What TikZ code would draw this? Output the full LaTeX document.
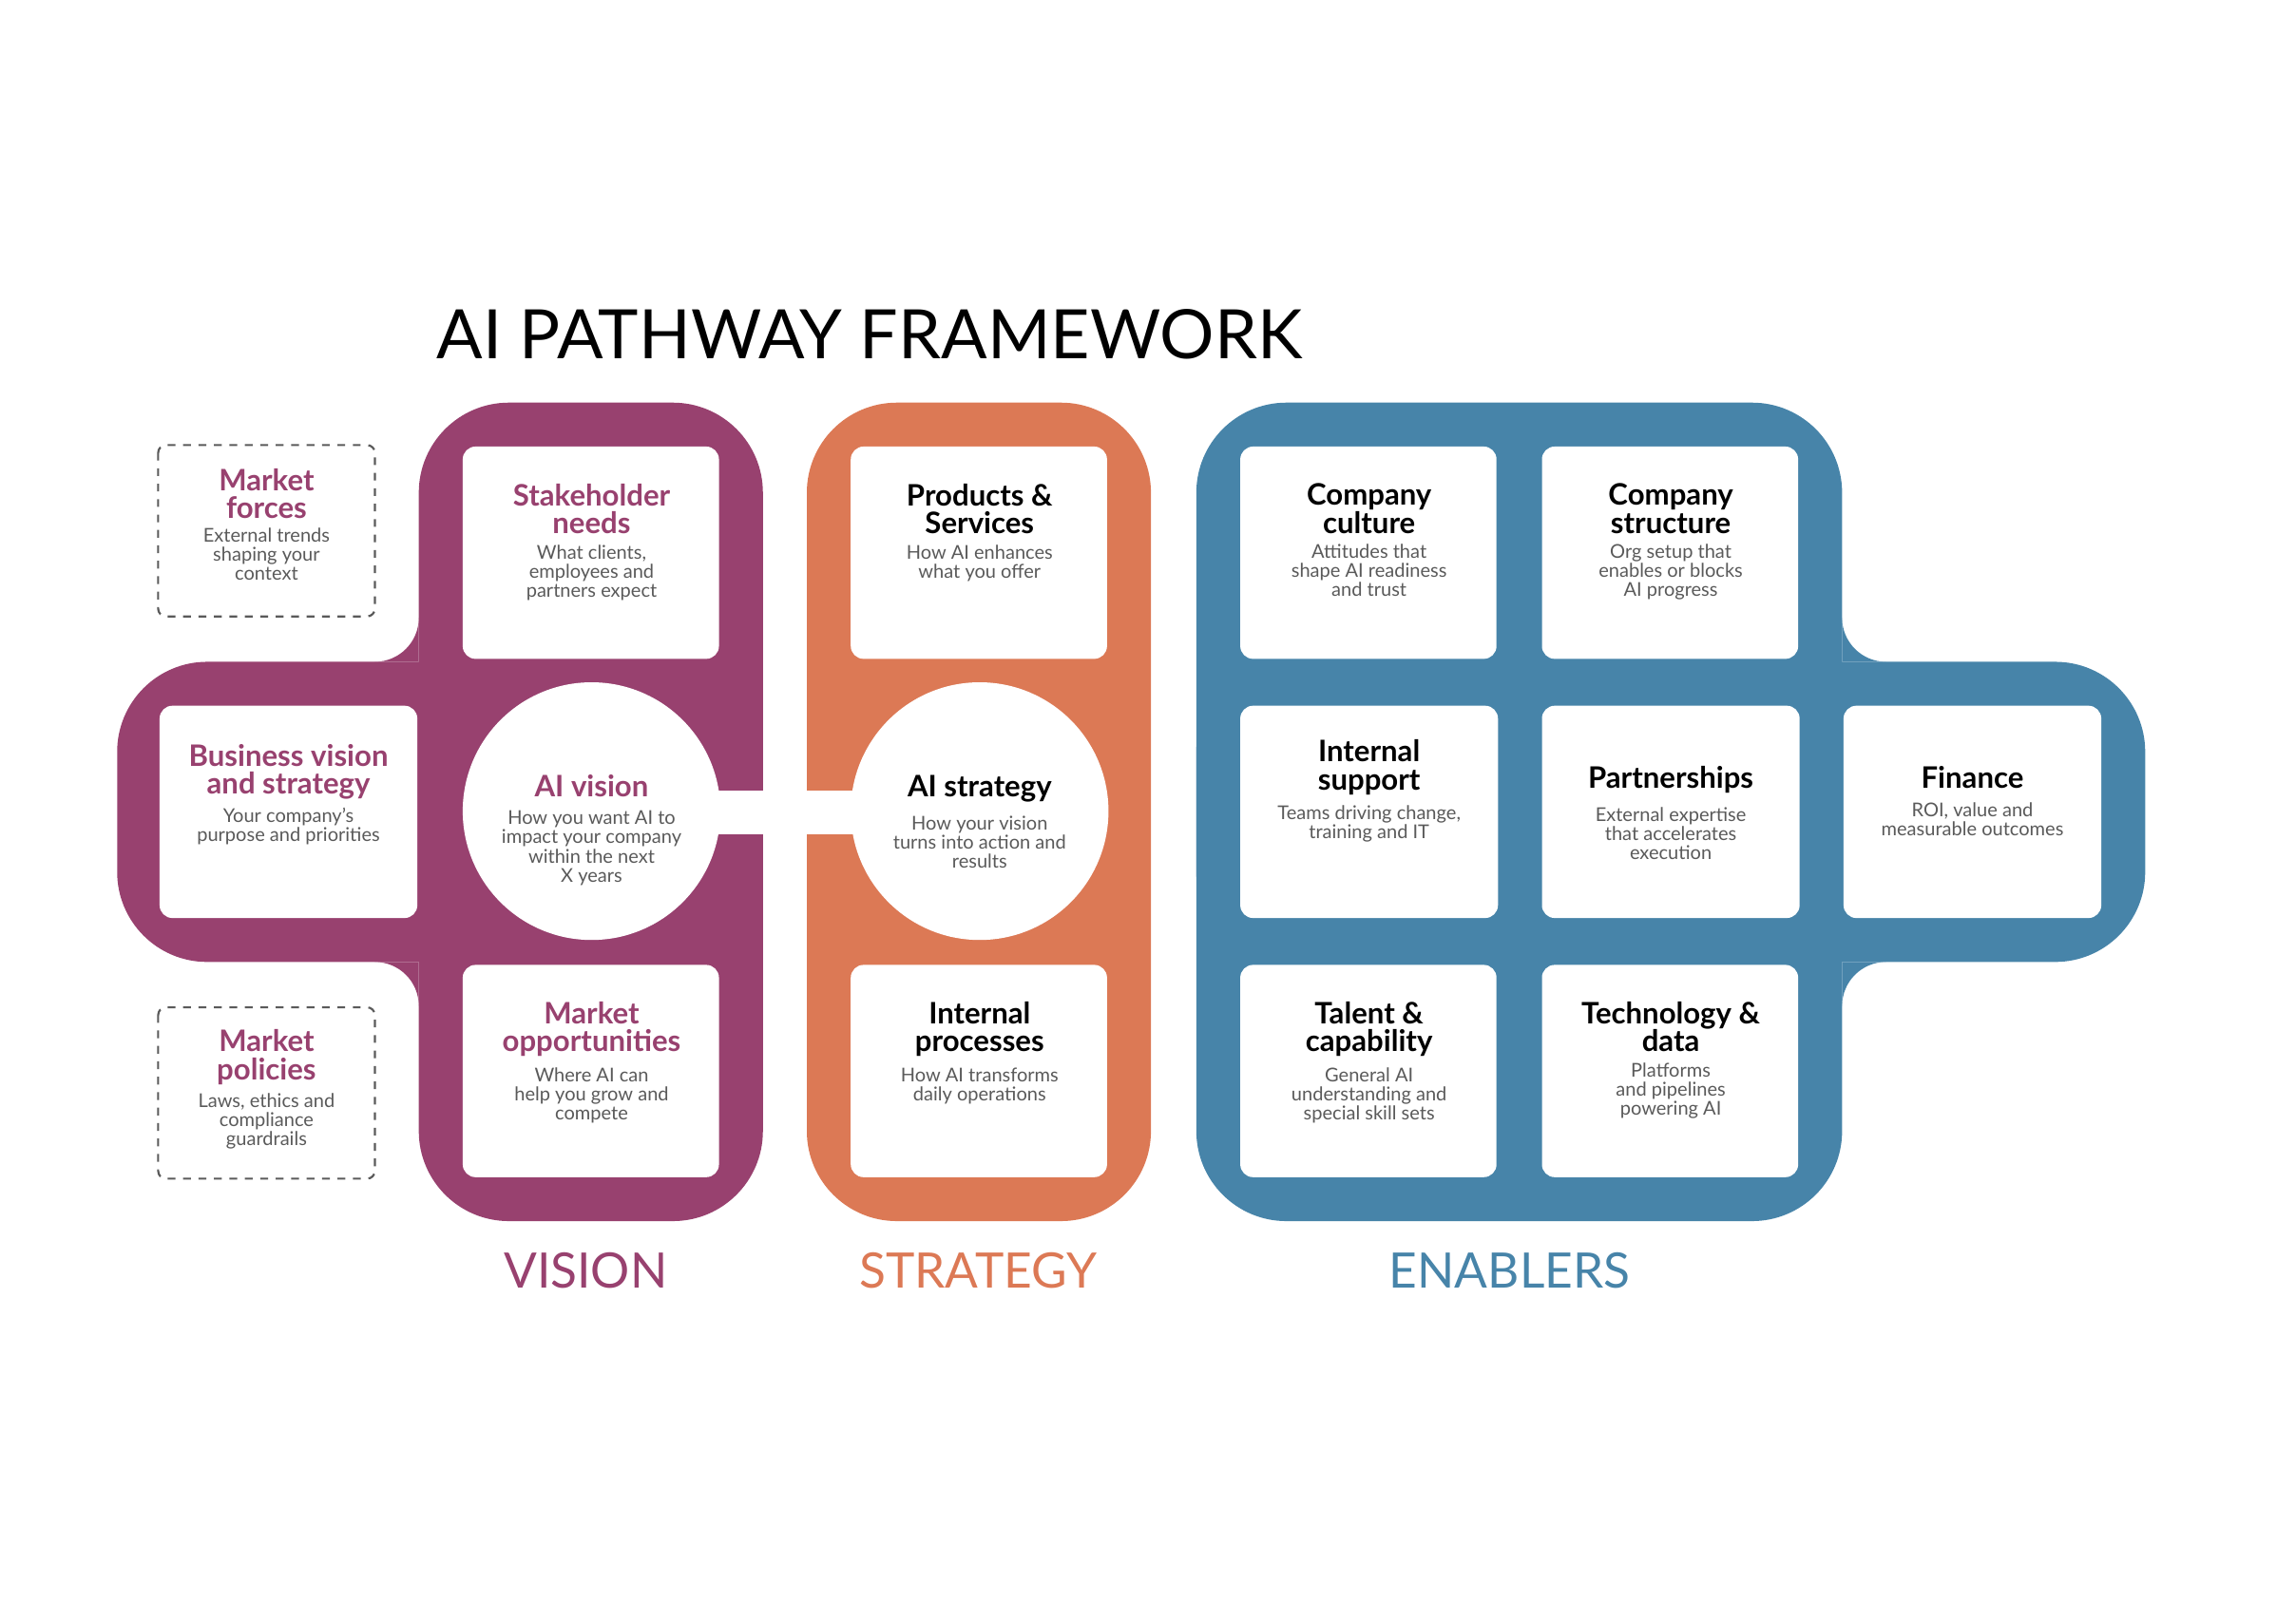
\documentclass[tikz,border=0pt]{standalone}
\usepackage{fontspec}
\setmainfont{Lato}
\definecolor{vis}{HTML}{98416F}
\definecolor{str}{HTML}{DC7955}
\definecolor{ena}{HTML}{4784A9}
\definecolor{dsc}{HTML}{5A5A5A}
\begin{document}
\begin{tikzpicture}[x=0.02cm,y=0.02cm,
  wbox/.style={fill=white,rounded corners=5},
  hd/.style={align=center,anchor=north,inner sep=0,font=\fontsize{11.5}{10.8}\selectfont\bfseries},
  ds/.style={align=center,anchor=north,inner sep=0,text=dsc,font=\fontsize{7.4}{7.4}\selectfont},
  lbl/.style={font=\fontsize{19}{19}\selectfont}]
\useasboundingbox (0,0) rectangle (1568,-1108);
% purple
\fill[vis,rounded corners=35] (286,-275) rectangle (521,-834);
\fill[vis,rounded corners=35] (80,-452) rectangle (521,-657);
\fill[vis] (286,-422) arc[start angle=0,end angle=-90,radius=30] -- (286,-452) -- cycle;
\fill[vis] (286,-687) arc[start angle=0,end angle=90,radius=30] -- (286,-657) -- cycle;
% orange
\fill[str,rounded corners=35] (551,-275) rectangle (786,-834);
% blue
\fill[ena,rounded corners=35] (817,-275) rectangle (1258,-834);
\fill[ena,rounded corners=35] (817,-452) rectangle (1465,-657);
\fill[ena] (1258,-422) arc[start angle=180,end angle=270,radius=30] -- (1258,-452) -- cycle;
\fill[ena] (1258,-687) arc[start angle=180,end angle=90,radius=30] -- (1258,-657) -- cycle;
% white link
\fill[white] (470,-540) rectangle (610,-570);
% dashed boxes
\draw[dsc,dashed,line width=0.8pt,rounded corners=3] (108,-304) rectangle (256,-421);
\draw[dsc,dashed,line width=0.8pt,rounded corners=3] (108,-688) rectangle (256,-805);
% white boxes
\foreach \x in {316,581,847,1053}{
  \fill[wbox] (\x,-305) rectangle ++(175,-145);
  \fill[wbox] (\x,-659) rectangle ++(175,-145);}
\foreach \x in {109,847,1053,1259}{\fill[wbox] (\x,-482) rectangle ++(176,-145);}
\fill[white] (404,-554) circle (88);
\fill[white] (669,-554) circle (88);
% title
\node[anchor=base west,inner sep=0,font=\fontsize{26.5}{26.5}\selectfont] (title) at (298,-245) {AI PATHWAY FRAMEWORK};
% texts
\node[hd,text=vis] (mf) at (182,-320) {Market\\forces};
\node[ds] (mfd) at ([yshift=-3pt]mf.south) {External trends\\shaping your\\context};
\node[hd,text=vis] (mp) at (182,-703) {Market\\policies};
\node[ds] (mpd) at ([yshift=-3pt]mp.south) {Laws, ethics and\\compliance\\guardrails};
\node[hd,text=vis] (sn) at (404,-330) {Stakeholder\\needs};
\node[ds] (snd) at ([yshift=-4pt]sn.south) {What clients,\\employees and\\partners expect};
\node[hd,text=vis] (bv) at (197,-508) {Business vision\\and strategy};
\node[ds] (bvd) at ([yshift=-3pt]bv.south) {Your company's\\purpose and priorities};
\node[hd,text=vis] (av) at (404,-529) {AI vision};
\node[ds] (avd) at ([yshift=-5pt]av.south) {How you want AI to\\impact your company\\within the next\\X years};
\node[hd,text=vis] (mo) at (404,-684) {Market\\opportunities};
\node[ds] (mod) at ([yshift=-4pt]mo.south) {Where AI can\\help you grow and\\compete};
\node[hd] (ps) at (669,-330) {Products \&\\Services};
\node[ds] (psd) at ([yshift=-4pt]ps.south) {How AI enhances\\what you offer};
\node[hd] (as) at (669,-529) {AI strategy};
\node[ds] (asd) at ([yshift=-5pt]as.south) {How your vision\\turns into action and\\results};
\node[hd] (ip) at (669,-684) {Internal\\processes};
\node[ds] (ipd) at ([yshift=-4pt]ip.south) {How AI transforms\\daily operations};
\node[hd] (cc) at (935,-330) {Company\\culture};
\node[ds] (ccd) at ([yshift=-4pt]cc.south) {Attitudes that\\shape AI readiness\\and trust};
\node[hd] (cs) at (1141,-330) {Company\\structure};
\node[ds] (csd) at ([yshift=-4pt]cs.south) {Org setup that\\enables or blocks\\AI progress};
\node[hd] (is) at (935,-505) {Internal\\support};
\node[ds] (isd) at ([yshift=-4pt]is.south) {Teams driving change,\\training and IT};
\node[hd] (pa) at (1141,-523) {Partnerships};
\node[ds] (pad) at ([yshift=-5pt]pa.south) {External expertise\\that accelerates\\execution};
\node[hd] (fi) at (1347,-523) {Finance};
\node[ds] (fid) at ([yshift=-5pt]fi.south) {ROI, value and\\measurable outcomes};
\node[hd] (tc) at (935,-684) {Talent \&\\capability};
\node[ds] (tcd) at ([yshift=-4pt]tc.south) {General AI\\understanding and\\special skill sets};
\node[hd] (td) at (1141,-684) {Technology \&\\data};
\node[ds] (tdd) at ([yshift=-4pt]td.south) {Platforms\\and pipelines\\powering AI};
% labels
\node[lbl,text=vis] (lv) at (400,-868) {VISION};
\node[lbl,text=str] (ls) at (668,-868) {STRATEGY};
\node[lbl,text=ena] (le) at (1031,-868) {ENABLERS};
\end{tikzpicture}
\end{document}
